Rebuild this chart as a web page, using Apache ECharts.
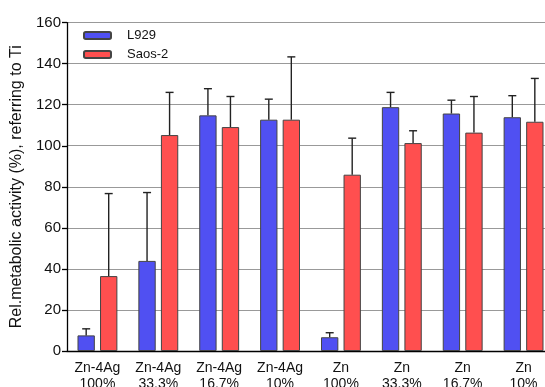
<!DOCTYPE html>
<html><head><meta charset="utf-8">
<script src="https://cdn.jsdelivr.net/npm/echarts@6/dist/echarts.min.js"></script>
<style>html,body{margin:0;padding:0;background:#fff}#c{width:545px;height:387px}</style>
</head><body><div id="c"></div>
<script>
var categories = ['Zn-4Ag\n100%','Zn-4Ag\n33.3%','Zn-4Ag\n16.7%','Zn-4Ag\n10%','Zn\n100%','Zn\n33.3%','Zn\n16.7%','Zn\n10%'];
var l929 = [7.6, 43.9, 114.8, 112.7, 6.7, 118.8, 115.7, 113.9];
var l929Err = [10.8, 77.2, 127.8, 122.7, 8.9, 126.0, 122.2, 124.4];
var saos2 = [36.5, 105.2, 109.1, 112.7, 85.9, 101.3, 106.4, 111.7];
var saos2Err = [76.7, 126.0, 124.0, 143.3, 103.7, 107.3, 124.0, 132.8];
var yTicks = [0, 20, 40, 60, 80, 100, 120, 140, 160];

var FONT = 'Liberation Sans, Arial, sans-serif';
function errData(vals, tops){ return vals.map(function(v,i){ return [i, v, tops[i]]; }); }
function makeErr(frac){
  return function(params, api){
    var i = api.value(0);
    var base = api.coord([i, api.value(1)]);
    var top = api.coord([i, api.value(2)]);
    var band = api.size([1,0])[0];
    var cx = base[0] + frac*band;
    var hw = 4;
    var st = {stroke:'#222', lineWidth:1.4};
    return {type:'group', children:[
      {type:'line', shape:{x1:cx,y1:base[1],x2:cx,y2:top[1]}, style:st},
      {type:'line', shape:{x1:cx-hw,y1:top[1],x2:cx+hw,y2:top[1]}, style:st}
    ]};
  };
}
var chart = echarts.init(document.getElementById('c'), null, {renderer:'canvas'});
chart.setOption({
  backgroundColor:'#ffffff',
  animation:false,
  grid:{left:67, top:22.6, bottom:36, right:-9, containLabel:false, outerBoundsMode:'none'},
  legend:{
    orient:'vertical', left:78, top:24, itemWidth:27, itemHeight:7, itemGap:6,
    textStyle:{fontFamily:FONT, fontSize:13, color:'#111', padding:[0,0,0,11]},
    data:['L929','Saos-2']
  },
  xAxis:{
    type:'category', data:categories,
    axisLine:{lineStyle:{color:'#000', width:1.3}},
    axisTick:{alignWithLabel:true, length:5, lineStyle:{color:'#000', width:1.3}},
    axisLabel:{fontFamily:FONT, fontSize:14, color:'#111', margin:9, lineHeight:16, interval:0},
    splitLine:{show:false}
  },
  yAxis:{
    type:'value', min:yTicks[0], max:yTicks[yTicks.length-1], interval:20,
    name:'Rel.metabolic activity (%), referring to Ti', nameLocation:'middle', nameGap:40,
    nameTextStyle:{fontFamily:FONT, fontSize:16, color:'#111'},
    axisLine:{show:true, lineStyle:{color:'#000', width:1.3}},
    axisTick:{show:true, length:5, lineStyle:{color:'#000', width:1.3}},
    axisLabel:{fontFamily:FONT, fontSize:15, color:'#111', margin:6},
    splitLine:{show:true, lineStyle:{color:'#999', width:1}}
  },
  series:[
    {name:'L929', type:'bar', data:l929, barWidth:'28.5%', barGap:'30%',
     itemStyle:{color:'#5050f2', borderColor:'#444', borderWidth:1}},
    {name:'Saos-2', type:'bar', data:saos2, barWidth:'28.5%', barGap:'30%',
     itemStyle:{color:'#ff4f4f', borderColor:'#444', borderWidth:1}},
    {type:'custom', name:'errL', data:errData(l929, l929Err), renderItem:makeErr(-0.185), encode:{x:0, y:2}, z:5, silent:true},
    {type:'custom', name:'errS', data:errData(saos2, saos2Err), renderItem:makeErr(0.185), encode:{x:0, y:2}, z:5, silent:true}
  ]
});
</script></body></html>
